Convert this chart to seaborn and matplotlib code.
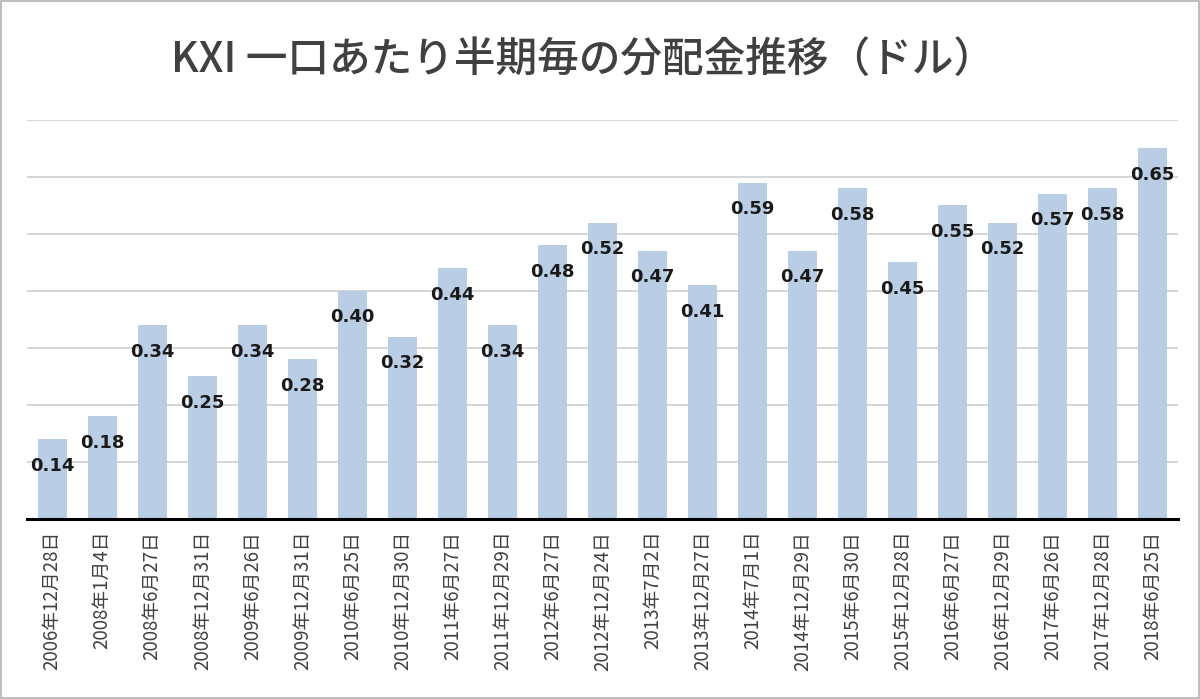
import matplotlib
matplotlib.use("Agg")
import matplotlib.pyplot as plt
import seaborn as sns
import pandas as pd
from matplotlib.patches import Rectangle

# data
dates = [
    "2006年12月28日", "2008年1月4日", "2008年6月27日", "2008年12月31日",
    "2009年6月26日", "2009年12月31日", "2010年6月25日", "2010年12月30日",
    "2011年6月27日", "2011年12月29日", "2012年6月27日", "2012年12月24日",
    "2013年7月2日", "2013年12月27日", "2014年7月1日", "2014年12月29日",
    "2015年6月30日", "2015年12月28日", "2016年6月27日", "2016年12月29日",
    "2017年6月26日", "2017年12月28日", "2018年6月25日",
]
payouts = [
    0.14, 0.18, 0.34, 0.25, 0.34, 0.28, 0.40, 0.32, 0.44, 0.34, 0.48, 0.52,
    0.47, 0.41, 0.59, 0.47, 0.58, 0.45, 0.55, 0.52, 0.57, 0.58, 0.65,
]
title = "KXI 一口あたり半期毎の分配金推移（ドル）"

df = pd.DataFrame({"date": dates, "payout": payouts})

sns.set_style("white")
plt.rcParams["font.family"] = ["Noto Sans CJK JP", "DejaVu Sans"]

fig = plt.figure(figsize=(12, 6.99), dpi=100)
ax = fig.add_axes([0.0225, 0.2575, 0.959, 0.571])

sns.barplot(data=df, x="date", y="payout", color="#B9CDE5", saturation=1,
            width=0.58, ax=ax, zorder=2, linewidth=0)

ax.set_ylim(0, 0.7)
ax.set_xlim(-0.5, len(dates) - 0.5)
ax.set_yticks([0.1, 0.2, 0.3, 0.4, 0.5, 0.6, 0.7])
ax.yaxis.grid(True, color="#D0D0D0", linewidth=1.2, zorder=0)
ax.tick_params(axis="y", left=False, labelleft=False)
ax.tick_params(axis="x", bottom=False, pad=5)
for lbl in ax.get_xticklabels():
    lbl.set_rotation(90)
    lbl.set_fontsize(13.5)
    lbl.set_color("#404040")
    lbl.set_va("top")
    lbl.set_ha("center")
ax.set_xlabel("")
ax.set_ylabel("")
for side in ["top", "right", "left"]:
    ax.spines[side].set_visible(False)
ax.spines["bottom"].set_color("#000000")
ax.spines["bottom"].set_linewidth(2.2)

# value labels sit just inside the top of each bar
for p, v in zip(ax.patches, payouts):
    ax.annotate(f"{v:.2f}", (p.get_x() + p.get_width() / 2, p.get_height()),
                xytext=(0, -19), textcoords="offset points",
                ha="center", va="center", fontsize=13, fontweight="bold",
                color="#1A1A1A", family=["DejaVu Sans"], zorder=3)

fig.text(0.486, 0.915, title, ha="center", va="center", fontsize=30,
         fontweight="medium", color="#404040")

fig.patches.append(Rectangle((0.001, 0.0015), 0.998, 0.997, transform=fig.transFigure,
                             fill=False, edgecolor="#BFBFBF", linewidth=1.5))

fig.savefig("out.png", dpi=100)
